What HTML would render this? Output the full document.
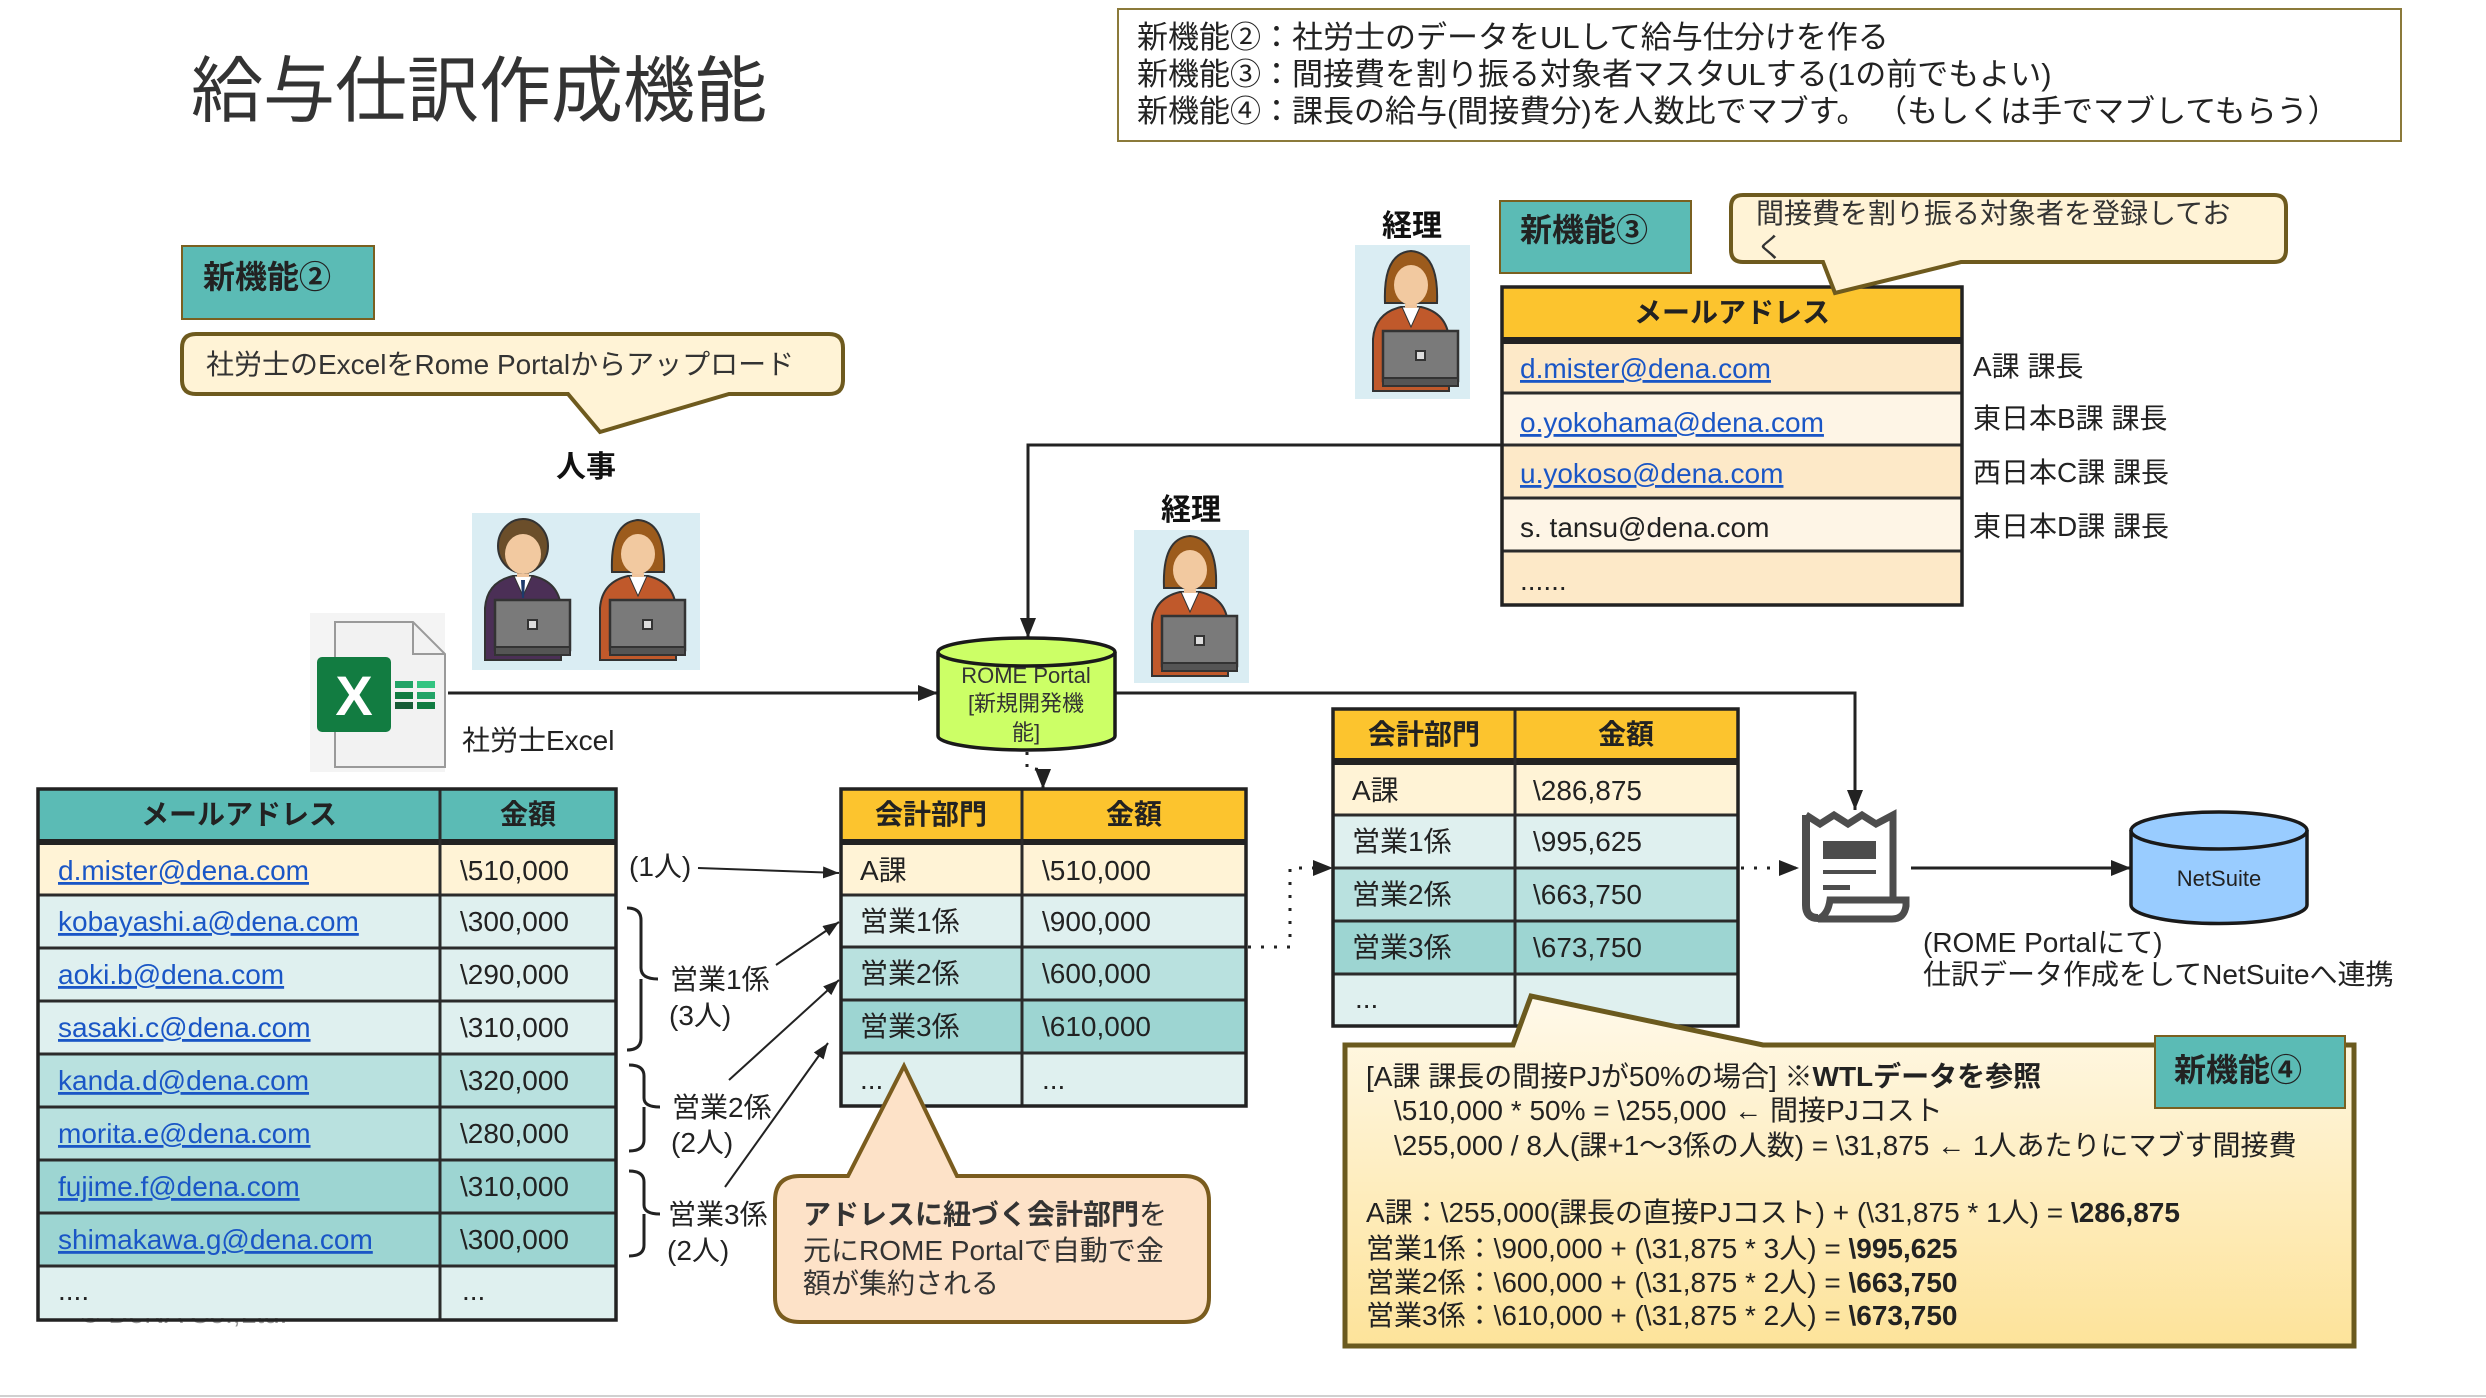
<!DOCTYPE html>
<html><head><meta charset="utf-8">
<style>
html,body{margin:0;padding:0;background:#fff;}
body{width:2486px;height:1398px;overflow:hidden;position:relative;}
svg text{font-family:"Liberation Sans","Noto Sans CJK JP",sans-serif;}
</style></head>
<body>
<svg xmlns="http://www.w3.org/2000/svg" width="2486" height="1398" style="position:absolute;left:0;top:0">
<defs>
<marker id="a" viewBox="0 0 20 16" refX="20" refY="8" markerWidth="20" markerHeight="16" markerUnits="userSpaceOnUse" orient="auto"><path d="M0,0 L20,8 L0,16 z" fill="#222"/></marker>
<marker id="b" viewBox="0 0 16 12" refX="16" refY="6" markerWidth="16" markerHeight="12" markerUnits="userSpaceOnUse" orient="auto"><path d="M0,0 L16,6 L0,12 z" fill="#222"/></marker>
<linearGradient id="g" x1="0" y1="0" x2="0" y2="1"><stop offset="0" stop-color="#fff9ea"/><stop offset="1" stop-color="#fde39a"/></linearGradient>
<g id="man">
 <path d="M2,140 L2,88 Q4,62 30,56 L50,56 Q76,62 78,88 L78,140 Z" fill="#4b2f56" stroke="#333" stroke-width="2"/>
 <path d="M31,56 L40,76 L49,56 Z" fill="#fff" stroke="#333" stroke-width="1"/>
 <path d="M38,60 L42,60 L41,78 L39,78 Z" fill="#1d3b6b"/>
 <rect x="34" y="42" width="12" height="15" fill="#efc49c"/>
 <ellipse cx="40" cy="26" rx="25" ry="27" fill="#6b4e2a" stroke="#333" stroke-width="2"/>
 <ellipse cx="40" cy="34" rx="18" ry="20" fill="#f2c9a0"/>
 <rect x="12" y="80" width="75" height="50" fill="#7a7a7a" stroke="#333" stroke-width="2.5"/>
 <rect x="12" y="127" width="75" height="8" fill="#555" stroke="#333" stroke-width="2"/>
 <rect x="45" y="100" width="9" height="9" fill="#ddd" stroke="#333" stroke-width="2"/>
</g>
<g id="woman">
 <path d="M2,140 L2,88 Q4,62 30,56 L50,56 Q76,62 78,88 L78,140 Z" fill="#c0592b" stroke="#333" stroke-width="2"/>
 <path d="M31,56 L40,76 L49,56 Z" fill="#fff" stroke="#333" stroke-width="1"/>
 <rect x="34" y="42" width="12" height="15" fill="#efc49c"/>
 <path d="M14,52 Q12,2 40,0 Q68,2 66,52 Z" fill="#9c5b1c" stroke="#333" stroke-width="2"/>
 <ellipse cx="40" cy="34" rx="17" ry="20" fill="#f2c9a0"/>
 <rect x="12" y="80" width="75" height="50" fill="#7a7a7a" stroke="#333" stroke-width="2.5"/>
 <rect x="12" y="127" width="75" height="8" fill="#555" stroke="#333" stroke-width="2"/>
 <rect x="45" y="100" width="9" height="9" fill="#ddd" stroke="#333" stroke-width="2"/>
</g>
</defs>

<line x1="0" y1="1396" x2="2486" y2="1396" stroke="#d0d0d0" stroke-width="2"/>

<text x="191" y="116" font-size="72" fill="#333">給与仕訳作成機能</text>

<rect x="1118" y="9" width="1283" height="132" fill="#fff" stroke="#8b7a3a" stroke-width="2"/>
<text x="1137" y="48" font-size="31" fill="#222">新機能②：社労士のデータをULして給与仕分けを作る</text>
<text x="1137" y="85" font-size="31" fill="#222">新機能③：間接費を割り振る対象者マスタULする(1の前でもよい)</text>
<text x="1137" y="122" font-size="31" fill="#222">新機能④：課長の給与(間接費分)を人数比でマブす。 （もしくは手でマブしてもらう）</text>

<rect x="182" y="246" width="192" height="73" fill="#5bbbb5" stroke="#7a6020" stroke-width="2"/>
<text x="203" y="288" font-size="32" font-weight="bold" fill="#222">新機能②</text>

<path d="M196,334 L829,334 Q843,334 843,348 L843,380 Q843,394 829,394 L729,394 L600,432 L568,394 L196,394 Q182,394 182,380 L182,348 Q182,334 196,334 Z" fill="#fff3d6" stroke="#6e5a1e" stroke-width="4"/>
<text x="206" y="374" font-size="28" fill="#333">社労士のExcelをRome Portalからアップロード</text>

<text x="586" y="477" font-size="30" font-weight="bold" text-anchor="middle" fill="#111">人事</text>
<rect x="472" y="513" width="228" height="157" fill="#daedf3"/>
<use href="#man" x="483" y="520"/>
<use href="#woman" x="598" y="520"/>

<rect x="310" y="613" width="135" height="159" fill="#f4f4f4"/>
<path d="M335,622 L413,622 L445,654 L445,767 L335,767 Z" fill="#f2f2f2" stroke="#9a9a9a" stroke-width="2"/>
<path d="M413,622 L413,654 L445,654" fill="none" stroke="#9a9a9a" stroke-width="2"/>
<rect x="317" y="657" width="74" height="75" rx="5" fill="#127c41"/>
<text x="354" y="715" font-size="56" font-weight="bold" fill="#fff" text-anchor="middle">X</text>
<rect x="395" y="681" width="18" height="7" fill="#21a366"/><rect x="417" y="681" width="18" height="7" fill="#33c481"/>
<rect x="395" y="692" width="18" height="7" fill="#107c41"/><rect x="417" y="692" width="18" height="7" fill="#21a366"/>
<rect x="395" y="702" width="18" height="7" fill="#185c37"/><rect x="417" y="702" width="18" height="7" fill="#107c41"/>
<text x="462" y="750" font-size="28" fill="#222">社労士Excel</text>

<line x1="448" y1="693" x2="938" y2="693" stroke="#222" stroke-width="3" marker-end="url(#a)"/>
<polyline points="1502,445 1028,445 1028,638" fill="none" stroke="#222" stroke-width="3" marker-end="url(#a)"/>
<polyline points="1115,693 1855,693 1855,810" fill="none" stroke="#222" stroke-width="3" marker-end="url(#a)"/>
<polyline points="1027,752 1027,768 1043,770 1043,789" fill="none" stroke="#222" stroke-width="3" stroke-dasharray="3 9" marker-end="url(#a)"/>
<polyline points="1248,947 1290,947 1290,868 1333,868" fill="none" stroke="#222" stroke-width="3" stroke-dasharray="3 10" marker-end="url(#a)"/>
<line x1="1741" y1="868" x2="1799" y2="868" stroke="#222" stroke-width="3" stroke-dasharray="3 10" marker-end="url(#a)"/>
<line x1="1911" y1="868" x2="2131" y2="868" stroke="#222" stroke-width="3" marker-end="url(#a)"/>

<path d="M938,652 L938,736 A88.5,14 0 0 0 1115,736 L1115,652" fill="#ccff66" stroke="#1a1a1a" stroke-width="3.5"/>
<ellipse cx="1026.5" cy="652" rx="88.5" ry="14" fill="#ccff66" stroke="#1a1a1a" stroke-width="3.5"/>
<text x="1026" y="683" font-size="22" text-anchor="middle" fill="#333">ROME Portal</text>
<text x="1026" y="711" font-size="22" text-anchor="middle" fill="#333">[新規開発機</text>
<text x="1026" y="740" font-size="22" text-anchor="middle" fill="#333">能]</text>

<text x="1191" y="520" font-size="30" font-weight="bold" text-anchor="middle" fill="#111">経理</text>
<rect x="1134" y="530" width="115" height="153" fill="#daedf3"/>
<use href="#woman" x="1150" y="536"/>

<text x="1412" y="236" font-size="30" font-weight="bold" text-anchor="middle" fill="#111">経理</text>
<rect x="1355" y="245" width="115" height="154" fill="#daedf3"/>
<use href="#woman" x="1371" y="251"/>

<rect x="1500" y="201" width="191" height="72" fill="#5bbbb5" stroke="#7a6020" stroke-width="2"/>
<text x="1520" y="241" font-size="32" font-weight="bold" fill="#222">新機能③</text>

<rect x="1502" y="287" width="460" height="50" fill="#fcc42e"/>
<rect x="1502" y="337" width="460" height="7" fill="#222"/>
<rect x="1502" y="344" width="460" height="49" fill="#fde9c8"/>
<rect x="1502" y="393" width="460" height="52" fill="#fef5e6"/>
<rect x="1502" y="445" width="460" height="53" fill="#fde9c8"/>
<rect x="1502" y="498" width="460" height="53" fill="#fef5e6"/>
<rect x="1502" y="551" width="460" height="54" fill="#fde9c8"/>
<g stroke="#2b2b2b" stroke-width="3">
<line x1="1502" y1="393" x2="1962" y2="393"/><line x1="1502" y1="445" x2="1962" y2="445"/>
<line x1="1502" y1="498" x2="1962" y2="498"/><line x1="1502" y1="551" x2="1962" y2="551"/>
</g>
<rect x="1502" y="287" width="460" height="318" fill="none" stroke="#222" stroke-width="3.5"/>
<text x="1732" y="322" font-size="28" font-weight="bold" text-anchor="middle" fill="#222">メールアドレス</text>
<g font-size="28" fill="#1a56c6" style="text-decoration:underline">
<text x="1520" y="378">d.mister@dena.com</text>
<text x="1520" y="432">o.yokohama@dena.com</text>
<text x="1520" y="483">u.yokoso@dena.com</text>
</g>
<text x="1520" y="537" font-size="28" fill="#222">s. tansu@dena.com</text>
<text x="1520" y="590" font-size="28" fill="#222">......</text>
<g font-size="28" fill="#222">
<text x="1973" y="376">A課 課長</text>
<text x="1973" y="428">東日本B課 課長</text>
<text x="1973" y="482">西日本C課 課長</text>
<text x="1973" y="536">東日本D課 課長</text>
</g>

<path d="M1743,195 L2274,195 Q2286,195 2286,207 L2286,250 Q2286,262 2274,262 L1961,262 L1835,293 L1823,262 L1743,262 Q1731,262 1731,250 L1731,207 Q1731,195 1743,195 Z" fill="#fff3d6" stroke="#6e5a1e" stroke-width="4"/>
<text x="1756" y="223" font-size="28" fill="#333">間接費を割り振る対象者を登録してお</text>
<text x="1756" y="257" font-size="28" fill="#333">く</text>

<rect x="38" y="789" width="578" height="50" fill="#5bbbb5"/>
<rect x="38" y="839" width="578" height="6" fill="#222"/>
<rect x="38" y="845" width="578" height="50" fill="#fff3d6"/>
<rect x="38" y="895" width="578" height="159" fill="#dff0ef"/>
<rect x="38" y="1054" width="578" height="106" fill="#b9e1df"/>
<rect x="38" y="1160" width="578" height="106" fill="#9dd5d2"/>
<rect x="38" y="1266" width="578" height="54" fill="#dff0ef"/>
<text x="80" y="1323" font-size="28" fill="#999">© DeNA Co.,Ltd.</text>
<rect x="38" y="1266" width="578" height="52" fill="#dff0ef"/>
<g stroke="#2b2b2b" stroke-width="3">
<line x1="38" y1="895" x2="616" y2="895"/><line x1="38" y1="948" x2="616" y2="948"/>
<line x1="38" y1="1001" x2="616" y2="1001"/><line x1="38" y1="1054" x2="616" y2="1054"/>
<line x1="38" y1="1107" x2="616" y2="1107"/><line x1="38" y1="1160" x2="616" y2="1160"/>
<line x1="38" y1="1213" x2="616" y2="1213"/><line x1="38" y1="1266" x2="616" y2="1266"/>
<line x1="440" y1="789" x2="440" y2="1320"/>
</g>
<rect x="38" y="789" width="578" height="531" fill="none" stroke="#222" stroke-width="3.5"/>
<text x="239" y="824" font-size="28" font-weight="bold" text-anchor="middle" fill="#222">メールアドレス</text>
<text x="528" y="824" font-size="28" font-weight="bold" text-anchor="middle" fill="#222">金額</text>
<g font-size="28" fill="#1a56c6" style="text-decoration:underline">
<text x="58" y="880">d.mister@dena.com</text>
<text x="58" y="931">kobayashi.a@dena.com</text>
<text x="58" y="984">aoki.b@dena.com</text>
<text x="58" y="1037">sasaki.c@dena.com</text>
<text x="58" y="1090">kanda.d@dena.com</text>
<text x="58" y="1143">morita.e@dena.com</text>
<text x="58" y="1196">fujime.f@dena.com</text>
<text x="58" y="1249">shimakawa.g@dena.com</text>
</g>
<g font-size="28" fill="#222">
<text x="460" y="880">\510,000</text>
<text x="460" y="931">\300,000</text>
<text x="460" y="984">\290,000</text>
<text x="460" y="1037">\310,000</text>
<text x="460" y="1090">\320,000</text>
<text x="460" y="1143">\280,000</text>
<text x="460" y="1196">\310,000</text>
<text x="460" y="1249">\300,000</text>
<text x="58" y="1300">....</text>
<text x="462" y="1300">...</text>
</g>

<g fill="none" stroke="#222" stroke-width="3">
<path d="M627,908 Q641,908 641,920 L641,968 Q641,979 658,979 M641,979 Q641,990 641,1000 L641,1038 Q641,1050 627,1050"/>
<path d="M629,1065 Q644,1065 644,1076 L644,1098 Q644,1107 660,1107 M644,1107 L644,1140 Q644,1151 629,1151"/>
<path d="M629,1171 Q644,1171 644,1182 L644,1205 Q644,1214 660,1214 M644,1214 L644,1245 Q644,1256 629,1256"/>
</g>
<g font-size="28" fill="#222">
<text x="629" y="876">(1人)</text>
<text x="670" y="989">営業1係</text>
<text x="669" y="1025">(3人)</text>
<text x="672" y="1117">営業2係</text>
<text x="671" y="1152">(2人)</text>
<text x="668" y="1224">営業3係</text>
<text x="667" y="1260">(2人)</text>
</g>
<g stroke="#222" stroke-width="2" fill="none">
<line x1="698" y1="868" x2="839" y2="873" marker-end="url(#b)"/>
<line x1="776" y1="965" x2="839" y2="922" marker-end="url(#b)"/>
<line x1="729" y1="1080" x2="839" y2="980" marker-end="url(#b)"/>
<line x1="725" y1="1187" x2="828" y2="1043" marker-end="url(#b)"/>
</g>

<rect x="841" y="789" width="405" height="50" fill="#fcc42e"/>
<rect x="841" y="839" width="405" height="6" fill="#222"/>
<rect x="841" y="845" width="405" height="50" fill="#fff3d6"/>
<rect x="841" y="895" width="405" height="52" fill="#dff0ef"/>
<rect x="841" y="947" width="405" height="53" fill="#b9e1df"/>
<rect x="841" y="1000" width="405" height="53" fill="#9dd5d2"/>
<rect x="841" y="1053" width="405" height="53" fill="#dff0ef"/>
<g stroke="#2b2b2b" stroke-width="3">
<line x1="841" y1="895" x2="1246" y2="895"/><line x1="841" y1="947" x2="1246" y2="947"/>
<line x1="841" y1="1000" x2="1246" y2="1000"/><line x1="841" y1="1053" x2="1246" y2="1053"/>
<line x1="1022" y1="789" x2="1022" y2="1106"/>
</g>
<rect x="841" y="789" width="405" height="317" fill="none" stroke="#222" stroke-width="3.5"/>
<text x="931" y="824" font-size="28" font-weight="bold" text-anchor="middle" fill="#222">会計部門</text>
<text x="1134" y="824" font-size="28" font-weight="bold" text-anchor="middle" fill="#222">金額</text>
<g font-size="28" fill="#222">
<text x="860" y="880">A課</text><text x="1042" y="880">\510,000</text>
<text x="860" y="931">営業1係</text><text x="1042" y="931">\900,000</text>
<text x="860" y="983">営業2係</text><text x="1042" y="983">\600,000</text>
<text x="860" y="1036">営業3係</text><text x="1042" y="1036">\610,000</text>
<text x="860" y="1089">...</text><text x="1042" y="1089">...</text>
</g>

<rect x="1333" y="709" width="405" height="49" fill="#fcc42e"/>
<rect x="1333" y="758" width="405" height="7" fill="#222"/>
<rect x="1333" y="765" width="405" height="50" fill="#fff3d6"/>
<rect x="1333" y="815" width="405" height="53" fill="#dff0ef"/>
<rect x="1333" y="868" width="405" height="53" fill="#b9e1df"/>
<rect x="1333" y="921" width="405" height="53" fill="#9dd5d2"/>
<rect x="1333" y="974" width="405" height="52" fill="#dff0ef"/>
<g stroke="#2b2b2b" stroke-width="3">
<line x1="1333" y1="815" x2="1738" y2="815"/><line x1="1333" y1="868" x2="1738" y2="868"/>
<line x1="1333" y1="921" x2="1738" y2="921"/><line x1="1333" y1="974" x2="1738" y2="974"/>
<line x1="1515" y1="709" x2="1515" y2="1026"/>
</g>
<rect x="1333" y="709" width="405" height="317" fill="none" stroke="#222" stroke-width="3.5"/>
<text x="1424" y="744" font-size="28" font-weight="bold" text-anchor="middle" fill="#222">会計部門</text>
<text x="1626" y="744" font-size="28" font-weight="bold" text-anchor="middle" fill="#222">金額</text>
<g font-size="28" fill="#222">
<text x="1352" y="800">A課</text><text x="1533" y="800">\286,875</text>
<text x="1352" y="851">営業1係</text><text x="1533" y="851">\995,625</text>
<text x="1352" y="904">営業2係</text><text x="1533" y="904">\663,750</text>
<text x="1352" y="957">営業3係</text><text x="1533" y="957">\673,750</text>
<text x="1355" y="1008">...</text>
</g>

<path d="M1806,815 L1806,905 Q1806,918 1818,918" fill="none" stroke="#4d4d4d" stroke-width="8"/>
<path d="M1806,815 L1820,824 L1834,815 L1848,824 L1862,815 L1876,824 L1893,815 L1893,900" fill="none" stroke="#4d4d4d" stroke-width="7"/>
<path d="M1830,900 L1906,900 L1906,906 Q1904,919 1892,919 L1818,919 Q1828,915 1830,900 Z" fill="#fff" stroke="#4d4d4d" stroke-width="7"/>
<rect x="1823" y="841" width="53" height="18" fill="#4d4d4d"/>
<rect x="1823" y="870" width="53" height="4" fill="#4d4d4d"/>
<rect x="1823" y="885" width="27" height="5" fill="#4d4d4d"/>

<path d="M2131,830 L2131,905 A88,18.5 0 0 0 2307,905 L2307,830" fill="#99ccff" stroke="#1a1a1a" stroke-width="3.5"/>
<ellipse cx="2219" cy="830.5" rx="88" ry="18.5" fill="#99ccff" stroke="#1a1a1a" stroke-width="3.5"/>
<text x="2219" y="886" font-size="22" text-anchor="middle" fill="#222">NetSuite</text>
<text x="1923" y="952" font-size="28" fill="#222">(ROME Portalにて)</text>
<text x="1923" y="984" font-size="28" fill="#222">仕訳データ作成をしてNetSuiteへ連携</text>

<path d="M800,1176 L848,1176 L904,1066 L957,1176 L1184,1176 Q1209,1176 1209,1201 L1209,1297 Q1209,1322 1184,1322 L800,1322 Q775,1322 775,1297 L775,1201 Q775,1176 800,1176 Z" fill="#fde2c8" stroke="#7a5c1e" stroke-width="4"/>
<text x="803" y="1224" font-size="28" fill="#333"><tspan font-weight="bold">アドレスに紐づく会計部門</tspan>を</text>
<text x="803" y="1260" font-size="28" fill="#333">元にROME Portalで自動で金</text>
<text x="803" y="1293" font-size="28" fill="#333">額が集約される</text>

<path d="M1345,1045 L1513,1045 L1531,996 L1763,1045 L2354,1045 L2354,1346 L1345,1346 Z" fill="url(#g)" stroke="#6b5a1e" stroke-width="5"/>
<rect x="2155" y="1036" width="190" height="72" fill="#5bbbb5" stroke="#7a6020" stroke-width="2"/>
<text x="2174" y="1081" font-size="32" font-weight="bold" fill="#222">新機能④</text>
<g font-size="28" fill="#222">
<text x="1366" y="1086">[A課 課長の間接PJが50%の場合] <tspan font-weight="bold">※WTLデータを参照</tspan></text>
<text x="1394" y="1120">\510,000 * 50% = \255,000 ← 間接PJコスト</text>
<text x="1394" y="1155">\255,000 / 8人(課+1～3係の人数) = \31,875 ← 1人あたりにマブす間接費</text>
<text x="1366" y="1222">A課：\255,000(課長の直接PJコスト) + (\31,875 * 1人) = <tspan font-weight="bold">\286,875</tspan></text>
<text x="1366" y="1258">営業1係：\900,000 + (\31,875 * 3人) = <tspan font-weight="bold">\995,625</tspan></text>
<text x="1366" y="1292">営業2係：\600,000 + (\31,875 * 2人) = <tspan font-weight="bold">\663,750</tspan></text>
<text x="1366" y="1325">営業3係：\610,000 + (\31,875 * 2人) = <tspan font-weight="bold">\673,750</tspan></text>
</g>
</svg>
</body></html>
